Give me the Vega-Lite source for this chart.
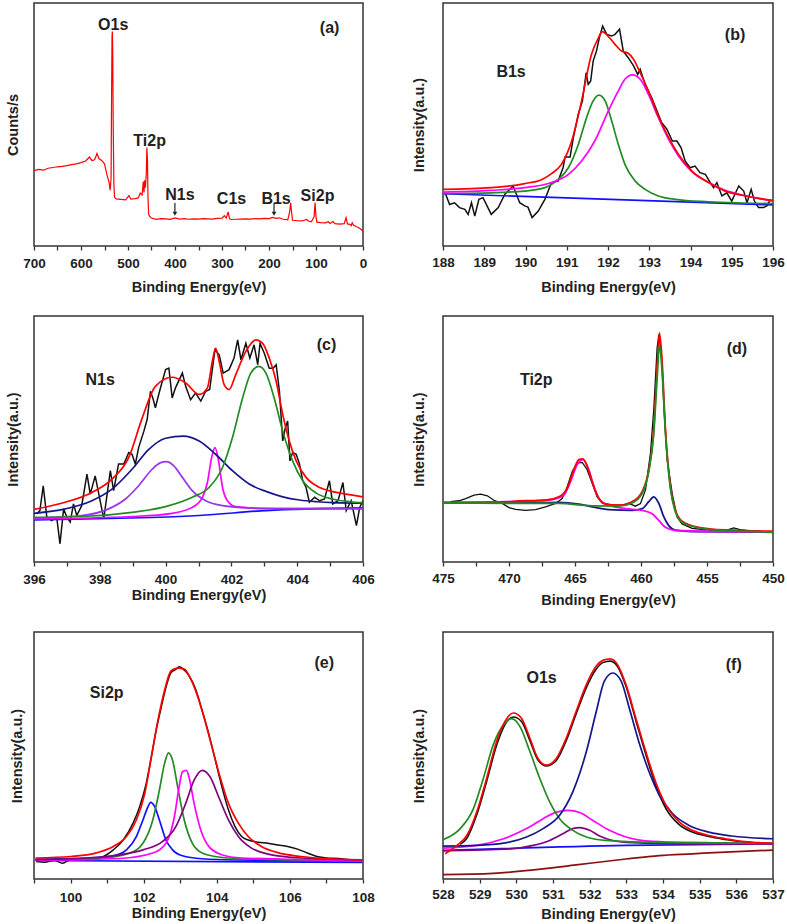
{
"$schema": "https://vega.github.io/schema/vega-lite/v6.json",
"padding": {"left": 4, "top": 2, "right": 0, "bottom": 2},
"config": {
  "font": "Liberation Sans",
  "view": {"stroke": "#333333", "strokeWidth": 1.5},
  "axis": {"grid": false, "domain": false, "labelFont": "Liberation Sans", "titleFont": "Liberation Sans", "labelFontWeight": "bold", "titleFontWeight": "bold", "labelFontSize": 13.5, "titleFontSize": 14.5, "labelColor": "#222222", "titleColor": "#222222", "tickColor": "#333333", "tickWidth": 1.3, "labelFlush": false, "labelOverlap": false},
  "text": {"font": "Liberation Sans", "fontWeight": "bold", "fontSize": 16, "color": "#222222"}
},
"datasets": {
  "a_line": [
    {"e":700,"i":31.0},{"e":690,"i":31.5},{"e":680,"i":31.2},{"e":670,"i":32.0},{"e":660,"i":32.3},{"e":650,"i":32.6},{"e":640,"i":32.8},{"e":630,"i":33.1},{"e":620,"i":33.5},{"e":610,"i":33.8},{"e":600,"i":34.3},{"e":590,"i":35.0},{"e":582,"i":36.6},{"e":577,"i":35.2},{"e":571,"i":35.5},{"e":566,"i":38.1},{"e":562,"i":36.0},{"e":556,"i":35.2},{"e":550,"i":33.8},{"e":545,"i":29.5},{"e":540,"i":26.0},{"e":538,"i":23.0},{"e":536,"i":28.0},{"e":535,"i":60.0},{"e":534,"i":86.0},{"e":533.3,"i":88.3},{"e":532.5,"i":80.0},{"e":531.5,"i":50.0},{"e":530,"i":25.0},{"e":528.5,"i":20.0},{"e":525,"i":19.4},{"e":515,"i":19.2},{"e":505,"i":19.0},{"e":498,"i":20.7},{"e":494,"i":19.3},{"e":485,"i":19.5},{"e":478,"i":19.8},{"e":474,"i":21.8},{"e":470,"i":21.0},{"e":467.5,"i":26.5},{"e":466,"i":22.0},{"e":464.5,"i":27.0},{"e":463,"i":24.0},{"e":461,"i":30.0},{"e":459.8,"i":40.5},{"e":458.5,"i":35.0},{"e":457.5,"i":20.0},{"e":456,"i":13.0},{"e":454,"i":12.2},{"e":450,"i":11.5},{"e":440,"i":11.0},{"e":430,"i":11.3},{"e":420,"i":11.2},{"e":410,"i":11.0},{"e":400,"i":11.6},{"e":390,"i":11.1},{"e":380,"i":11.3},{"e":370,"i":11.0},{"e":360,"i":11.2},{"e":350,"i":11.1},{"e":340,"i":11.3},{"e":330,"i":11.2},{"e":320,"i":11.1},{"e":310,"i":11.4},{"e":300,"i":11.5},{"e":295,"i":12.5},{"e":291,"i":11.5},{"e":287,"i":14.0},{"e":284,"i":11.2},{"e":280,"i":10.9},{"e":270,"i":11.0},{"e":260,"i":11.1},{"e":250,"i":11.2},{"e":240,"i":11.1},{"e":230,"i":11.3},{"e":220,"i":11.2},{"e":210,"i":11.4},{"e":200,"i":11.3},{"e":192,"i":11.8},{"e":185,"i":11.4},{"e":178,"i":11.6},{"e":170,"i":11.0},{"e":160,"i":10.8},{"e":156,"i":14.0},{"e":154,"i":17.8},{"e":152,"i":14.0},{"e":150,"i":10.6},{"e":140,"i":10.4},{"e":130,"i":10.3},{"e":120,"i":10.9},{"e":115,"i":10.2},{"e":110,"i":10.0},{"e":104,"i":12.0},{"e":102,"i":17.8},{"e":100,"i":12.0},{"e":98,"i":9.8},{"e":90,"i":9.6},{"e":80,"i":9.5},{"e":74,"i":10.0},{"e":70,"i":9.3},{"e":64,"i":10.1},{"e":60,"i":9.2},{"e":50,"i":9.0},{"e":40,"i":9.2},{"e":36,"i":11.7},{"e":33,"i":9.1},{"e":28,"i":8.9},{"e":25,"i":8.4},{"e":23,"i":9.6},{"e":20,"i":8.5},{"e":15,"i":8.0},{"e":10,"i":7.6},{"e":5,"i":7.0},{"e":0,"i":6.2}
  ],
  "a_text": [
    {"e":531.5,"i":90.9,"t":"O1s"},{"e":71,"i":89.7,"t":"(a)"},{"e":454,"i":43.2,"t":"Ti2p"},{"e":389.5,"i":21.0,"t":"N1s"},{"e":279.7,"i":19.3,"t":"C1s"},{"e":185,"i":19.3,"t":"B1s"},{"e":96.8,"i":20.6,"t":"Si2p"}
  ],
  "a_arrow": [
    {"e":400.2,"i":17.7,"i2":13.3},{"e":189.3,"i":17.7,"i2":13.3}
  ],
  "b_raw": [
    {"e":188.06,"i":21.5},{"e":188.16,"i":17.1},{"e":188.28,"i":17.8},{"e":188.4,"i":15.8},{"e":188.53,"i":15.1},{"e":188.61,"i":13.0},{"e":188.69,"i":17.8},{"e":188.77,"i":12.3},{"e":188.87,"i":19.2},{"e":188.97,"i":19.9},{"e":189.17,"i":13.0},{"e":189.34,"i":15.8},{"e":189.5,"i":21.3},{"e":189.7,"i":24.7},{"e":189.86,"i":17.8},{"e":189.98,"i":16.5},{"e":190.06,"i":16.0},{"e":190.16,"i":11.7},{"e":190.31,"i":14.4},{"e":190.47,"i":19.2},{"e":190.63,"i":26.1},{"e":190.79,"i":26.7},{"e":190.91,"i":32.2},{"e":190.96,"i":36.6},{"e":191.08,"i":36.6},{"e":191.16,"i":44.6},{"e":191.28,"i":54.2},{"e":191.38,"i":59.7},{"e":191.47,"i":71.3},{"e":191.52,"i":66.5},{"e":191.58,"i":67.9},{"e":191.64,"i":76.1},{"e":191.72,"i":80.2},{"e":191.79,"i":85.7},{"e":191.87,"i":90.5},{"e":191.97,"i":87.1},{"e":192.09,"i":86.4},{"e":192.17,"i":87.1},{"e":192.28,"i":89.2},{"e":192.37,"i":80.2},{"e":192.49,"i":77.5},{"e":192.62,"i":74.1},{"e":192.72,"i":70.6},{"e":192.78,"i":72.7},{"e":192.9,"i":66.5},{"e":193.06,"i":61.0},{"e":193.22,"i":54.2},{"e":193.3,"i":50.8},{"e":193.43,"i":48.0},{"e":193.56,"i":43.2},{"e":193.67,"i":43.2},{"e":193.77,"i":40.5},{"e":193.87,"i":35.0},{"e":193.99,"i":32.2},{"e":194.11,"i":32.9},{"e":194.23,"i":30.2},{"e":194.36,"i":29.5},{"e":194.48,"i":26.1},{"e":194.56,"i":24.0},{"e":194.64,"i":26.1},{"e":194.76,"i":20.6},{"e":194.88,"i":21.9},{"e":195.0,"i":18.5},{"e":195.17,"i":24.7},{"e":195.29,"i":22.6},{"e":195.37,"i":17.8},{"e":195.47,"i":23.3},{"e":195.55,"i":18.5},{"e":195.65,"i":15.8},{"e":195.77,"i":15.8},{"e":195.85,"i":16.5},{"e":195.94,"i":19.2}
  ],
  "b_fit": [
    {"e":188,"i":21.5,"s":"Background"},{"e":196,"i":16.9,"s":"Background"},
    {"e":188,"i":21.6,"s":"Peak 1"},{"e":189.17,"i":21.9,"s":"Peak 1"},{"e":189.98,"i":22.6,"s":"Peak 1"},{"e":190.47,"i":24.0,"s":"Peak 1"},{"e":190.79,"i":27.4,"s":"Peak 1"},{"e":191.04,"i":32.2,"s":"Peak 1"},{"e":191.28,"i":41.8,"s":"Peak 1"},{"e":191.48,"i":52.8,"s":"Peak 1"},{"e":191.64,"i":59.7,"s":"Peak 1"},{"e":191.78,"i":62.1,"s":"Peak 1"},{"e":191.93,"i":59.7,"s":"Peak 1"},{"e":192.09,"i":51.4,"s":"Peak 1"},{"e":192.25,"i":41.8,"s":"Peak 1"},{"e":192.41,"i":33.6,"s":"Peak 1"},{"e":192.66,"i":26.7,"s":"Peak 1"},{"e":192.9,"i":23.3,"s":"Peak 1"},{"e":193.22,"i":20.6,"s":"Peak 1"},{"e":193.63,"i":19.2,"s":"Peak 1"},{"e":194.44,"i":18.2,"s":"Peak 1"},{"e":195.25,"i":17.7,"s":"Peak 1"},{"e":196,"i":17.4,"s":"Peak 1"},
    {"e":188,"i":22.2,"s":"Peak 2"},{"e":189.17,"i":22.9,"s":"Peak 2"},{"e":189.98,"i":24.0,"s":"Peak 2"},{"e":190.63,"i":26.1,"s":"Peak 2"},{"e":191.04,"i":29.5,"s":"Peak 2"},{"e":191.36,"i":35.0,"s":"Peak 2"},{"e":191.68,"i":43.2,"s":"Peak 2"},{"e":192.01,"i":55.6,"s":"Peak 2"},{"e":192.25,"i":63.8,"s":"Peak 2"},{"e":192.41,"i":68.6,"s":"Peak 2"},{"e":192.59,"i":70.4,"s":"Peak 2"},{"e":192.78,"i":68.6,"s":"Peak 2"},{"e":192.98,"i":62.4,"s":"Peak 2"},{"e":193.22,"i":52.8,"s":"Peak 2"},{"e":193.47,"i":43.9,"s":"Peak 2"},{"e":193.71,"i":37.0,"s":"Peak 2"},{"e":194.03,"i":30.6,"s":"Peak 2"},{"e":194.44,"i":26.1,"s":"Peak 2"},{"e":194.84,"i":22.9,"s":"Peak 2"},{"e":195.25,"i":21.0,"s":"Peak 2"},{"e":195.65,"i":19.6,"s":"Peak 2"},{"e":196,"i":18.5,"s":"Peak 2"},
    {"e":188,"i":23.3,"s":"Envelope"},{"e":189.17,"i":24.0,"s":"Envelope"},{"e":189.98,"i":25.7,"s":"Envelope"},{"e":190.4,"i":27.4,"s":"Envelope"},{"e":190.63,"i":29.8,"s":"Envelope"},{"e":190.87,"i":33.6,"s":"Envelope"},{"e":191.12,"i":43.2,"s":"Envelope"},{"e":191.36,"i":59.7,"s":"Envelope"},{"e":191.6,"i":78.9,"s":"Envelope"},{"e":191.77,"i":85.7,"s":"Envelope"},{"e":191.86,"i":88.2,"s":"Envelope"},{"e":192.0,"i":86.4,"s":"Envelope"},{"e":192.17,"i":83.0,"s":"Envelope"},{"e":192.33,"i":80.2,"s":"Envelope"},{"e":192.49,"i":79.3,"s":"Envelope"},{"e":192.62,"i":76.8,"s":"Envelope"},{"e":192.78,"i":71.3,"s":"Envelope"},{"e":192.98,"i":63.8,"s":"Envelope"},{"e":193.22,"i":53.5,"s":"Envelope"},{"e":193.47,"i":44.6,"s":"Envelope"},{"e":193.71,"i":37.7,"s":"Envelope"},{"e":194.03,"i":30.9,"s":"Envelope"},{"e":194.44,"i":26.1,"s":"Envelope"},{"e":194.84,"i":22.6,"s":"Envelope"},{"e":195.25,"i":20.9,"s":"Envelope"},{"e":195.65,"i":19.6,"s":"Envelope"},{"e":196,"i":18.8,"s":"Envelope"}
  ],
  "b_text": [{"e":195.08,"i":86.8,"t":"(b)"},{"e":189.65,"i":71.6,"t":"B1s"}],
  "c_raw": [
    {"e":396.08,"i":19.5},{"e":396.18,"i":20.9},{"e":396.28,"i":31.0},{"e":396.39,"i":18.2},{"e":396.54,"i":16.8},{"e":396.69,"i":18.2},{"e":396.79,"i":7.4},{"e":396.9,"i":21.6},{"e":397.0,"i":18.2},{"e":397.1,"i":16.2},{"e":397.2,"i":23.6},{"e":397.3,"i":18.9},{"e":397.45,"i":22.9},{"e":397.61,"i":35.7},{"e":397.71,"i":27.6},{"e":397.86,"i":35.0},{"e":397.96,"i":28.3},{"e":398.12,"i":17.5},{"e":398.32,"i":37.1},{"e":398.42,"i":29.0},{"e":398.57,"i":39.8},{"e":398.73,"i":39.8},{"e":398.88,"i":44.5},{"e":398.98,"i":43.8},{"e":399.08,"i":39.8},{"e":399.18,"i":46.5},{"e":399.34,"i":53.2},{"e":399.44,"i":58.0},{"e":399.54,"i":69.4},{"e":399.61,"i":66.7},{"e":399.69,"i":62.7},{"e":399.79,"i":68.1},{"e":399.9,"i":73.5},{"e":400.0,"i":78.2},{"e":400.1,"i":78.8},{"e":400.2,"i":66.7},{"e":400.3,"i":70.8},{"e":400.51,"i":76.8},{"e":400.61,"i":71.4},{"e":400.76,"i":66.0},{"e":400.91,"i":68.7},{"e":401.07,"i":65.4},{"e":401.22,"i":69.4},{"e":401.34,"i":70.1},{"e":401.5,"i":86.3},{"e":401.63,"i":84.2},{"e":401.75,"i":76.8},{"e":401.93,"i":78.2},{"e":402.08,"i":82.9},{"e":402.19,"i":90.3},{"e":402.29,"i":82.2},{"e":402.44,"i":88.9},{"e":402.56,"i":82.9},{"e":402.69,"i":88.3},{"e":402.8,"i":80.2},{"e":402.87,"i":88.9},{"e":403.0,"i":84.9},{"e":403.15,"i":78.8},{"e":403.27,"i":78.8},{"e":403.36,"i":80.2},{"e":403.46,"i":69.4},{"e":403.56,"i":49.2},{"e":403.64,"i":54.6},{"e":403.71,"i":57.3},{"e":403.78,"i":41.1},{"e":403.86,"i":44.5},{"e":403.97,"i":43.8},{"e":404.07,"i":39.8},{"e":404.17,"i":33.0},{"e":404.27,"i":30.3},{"e":404.37,"i":24.3},{"e":404.53,"i":26.3},{"e":404.68,"i":24.9},{"e":404.83,"i":25.6},{"e":404.98,"i":33.0},{"e":405.08,"i":23.6},{"e":405.24,"i":24.9},{"e":405.39,"i":32.3},{"e":405.49,"i":20.9},{"e":405.64,"i":24.9},{"e":405.8,"i":14.8},{"e":405.9,"i":22.2},{"e":406,"i":24.9}
  ],
  "c_fit": [
    {"e":396,"i":17.1,"s":"Background"},{"e":401.02,"i":18.9,"s":"Background"},{"e":403.05,"i":20.9,"s":"Background"},{"e":406,"i":22.0,"s":"Background"},
    {"e":396,"i":17.5,"s":"Peak 3"},{"e":398.98,"i":18.5,"s":"Peak 3"},{"e":400.2,"i":19.8,"s":"Peak 3"},{"e":400.81,"i":22.2,"s":"Peak 3"},{"e":401.12,"i":26.3,"s":"Peak 3"},{"e":401.27,"i":32.3,"s":"Peak 3"},{"e":401.4,"i":42.5,"s":"Peak 3"},{"e":401.5,"i":46.5,"s":"Peak 3"},{"e":401.61,"i":41.1,"s":"Peak 3"},{"e":401.73,"i":30.3,"s":"Peak 3"},{"e":401.88,"i":24.9,"s":"Peak 3"},{"e":402.13,"i":22.5,"s":"Peak 3"},{"e":403.05,"i":21.7,"s":"Peak 3"},{"e":406,"i":21.7,"s":"Peak 3"},
    {"e":396,"i":17.9,"s":"Peak 1"},{"e":397.45,"i":18.9,"s":"Peak 1"},{"e":398.27,"i":21.6,"s":"Peak 1"},{"e":398.78,"i":25.6,"s":"Peak 1"},{"e":399.18,"i":31.0,"s":"Peak 1"},{"e":399.59,"i":37.7,"s":"Peak 1"},{"e":399.85,"i":40.4,"s":"Peak 1"},{"e":400.03,"i":40.8,"s":"Peak 1"},{"e":400.25,"i":39.1,"s":"Peak 1"},{"e":400.51,"i":34.4,"s":"Peak 1"},{"e":400.81,"i":29.0,"s":"Peak 1"},{"e":401.22,"i":24.9,"s":"Peak 1"},{"e":401.73,"i":22.9,"s":"Peak 1"},{"e":402.54,"i":22.0,"s":"Peak 1"},{"e":404.07,"i":21.7,"s":"Peak 1"},{"e":406,"i":21.7,"s":"Peak 1"},
    {"e":396,"i":19.8,"s":"Peak 2"},{"e":396.95,"i":21.6,"s":"Peak 2"},{"e":397.76,"i":24.9,"s":"Peak 2"},{"e":398.37,"i":29.6,"s":"Peak 2"},{"e":398.98,"i":37.7,"s":"Peak 2"},{"e":399.49,"i":45.8,"s":"Peak 2"},{"e":400.0,"i":50.3,"s":"Peak 2"},{"e":400.54,"i":51.2,"s":"Peak 2"},{"e":401.02,"i":49.2,"s":"Peak 2"},{"e":401.52,"i":43.8,"s":"Peak 2"},{"e":402.03,"i":37.1,"s":"Peak 2"},{"e":402.54,"i":31.7,"s":"Peak 2"},{"e":403.05,"i":28.7,"s":"Peak 2"},{"e":403.56,"i":26.5,"s":"Peak 2"},{"e":404.07,"i":25.2,"s":"Peak 2"},{"e":404.58,"i":24.5,"s":"Peak 2"},{"e":405.08,"i":24.1,"s":"Peak 2"},{"e":406,"i":23.9,"s":"Peak 2"},
    {"e":396,"i":18.2,"s":"Peak 4"},{"e":397.45,"i":18.5,"s":"Peak 4"},{"e":398.98,"i":20.2,"s":"Peak 4"},{"e":400.0,"i":22.5,"s":"Peak 4"},{"e":400.81,"i":26.3,"s":"Peak 4"},{"e":401.32,"i":30.3,"s":"Peak 4"},{"e":401.73,"i":38.4,"s":"Peak 4"},{"e":402.03,"i":50.5,"s":"Peak 4"},{"e":402.34,"i":66.7,"s":"Peak 4"},{"e":402.59,"i":76.8,"s":"Peak 4"},{"e":402.83,"i":79.5,"s":"Peak 4"},{"e":403.05,"i":76.8,"s":"Peak 4"},{"e":403.3,"i":66.7,"s":"Peak 4"},{"e":403.56,"i":53.2,"s":"Peak 4"},{"e":403.86,"i":41.1,"s":"Peak 4"},{"e":404.17,"i":33.0,"s":"Peak 4"},{"e":404.58,"i":28.0,"s":"Peak 4"},{"e":405.08,"i":25.6,"s":"Peak 4"},{"e":405.59,"i":24.5,"s":"Peak 4"},{"e":406,"i":24.1,"s":"Peak 4"},
    {"e":396,"i":21.4,"s":"Envelope"},{"e":396.95,"i":24.3,"s":"Envelope"},{"e":397.76,"i":28.3,"s":"Envelope"},{"e":398.37,"i":33.7,"s":"Envelope"},{"e":398.88,"i":42.5,"s":"Envelope"},{"e":399.29,"i":58.6,"s":"Envelope"},{"e":399.69,"i":71.4,"s":"Envelope"},{"e":400.2,"i":75.1,"s":"Envelope"},{"e":400.61,"i":72.8,"s":"Envelope"},{"e":401.02,"i":68.1,"s":"Envelope"},{"e":401.27,"i":70.8,"s":"Envelope"},{"e":401.42,"i":81.5,"s":"Envelope"},{"e":401.52,"i":86.9,"s":"Envelope"},{"e":401.63,"i":81.5,"s":"Envelope"},{"e":401.78,"i":72.1,"s":"Envelope"},{"e":401.93,"i":70.1,"s":"Envelope"},{"e":402.13,"i":76.1,"s":"Envelope"},{"e":402.44,"i":85.6,"s":"Envelope"},{"e":402.74,"i":90.3,"s":"Envelope"},{"e":402.95,"i":88.9,"s":"Envelope"},{"e":403.15,"i":82.9,"s":"Envelope"},{"e":403.36,"i":73.5,"s":"Envelope"},{"e":403.56,"i":60.0,"s":"Envelope"},{"e":403.76,"i":49.2,"s":"Envelope"},{"e":403.97,"i":41.1,"s":"Envelope"},{"e":404.27,"i":34.4,"s":"Envelope"},{"e":404.68,"i":30.3,"s":"Envelope"},{"e":405.08,"i":28.6,"s":"Envelope"},{"e":405.59,"i":27.4,"s":"Envelope"},{"e":406,"i":26.5,"s":"Envelope"}
  ],
  "c_text": [{"e":404.89,"i":88.2,"t":"(c)"},{"e":398.01,"i":73.8,"t":"N1s"}],
  "d_raw": [
    {"e":474.42,"i":24.5},{"e":473.79,"i":24.9},{"e":473.28,"i":25.8},{"e":472.65,"i":27.2},{"e":472.15,"i":27.6},{"e":471.64,"i":26.9},{"e":471.14,"i":25.1},{"e":470.51,"i":23.8},{"e":470.0,"i":22.1},{"e":469.5,"i":21.4},{"e":468.74,"i":21.0},{"e":467.99,"i":21.3},{"e":467.23,"i":22.4},{"e":466.47,"i":23.8},{"e":465.97,"i":25.8},{"e":465.59,"i":30.6},{"e":465.21,"i":36.8},{"e":464.83,"i":40.2},{"e":464.45,"i":40.5},{"e":464.08,"i":37.5},{"e":463.7,"i":32.0},{"e":463.32,"i":26.5},{"e":462.94,"i":24.0},{"e":462.18,"i":23.1},{"e":461.43,"i":23.1},{"e":460.92,"i":23.8},{"e":460.42,"i":22.7},{"e":460.04,"i":23.8},{"e":459.66,"i":29.3},{"e":459.28,"i":44.4},{"e":459.03,"i":62.2},{"e":458.78,"i":87.0},{"e":458.65,"i":92.4},{"e":458.45,"i":84.2},{"e":458.27,"i":63.6},{"e":458.02,"i":41.6},{"e":457.64,"i":27.9},{"e":457.27,"i":18.3},{"e":456.89,"i":15.5},{"e":456.13,"i":13.7},{"e":454.87,"i":13.0},{"e":453.61,"i":12.8},{"e":452.98,"i":13.9},{"e":452.35,"i":13.0},{"e":451.59,"i":12.5},{"e":450.08,"i":12.2}
  ],
  "d_fit": [
    {"e":474.92,"i":24.0,"s":"Background"},{"e":468.74,"i":24.0,"s":"Background"},{"e":466.22,"i":24.2,"s":"Background"},{"e":464.71,"i":23.5,"s":"Background"},{"e":463.7,"i":22.4,"s":"Background"},{"e":462.44,"i":21.3,"s":"Background"},{"e":460.67,"i":21.0,"s":"Background"},{"e":459.91,"i":21.7,"s":"Background"},{"e":459.41,"i":24.5,"s":"Background"},{"e":459.03,"i":26.5,"s":"Background"},{"e":458.65,"i":23.8,"s":"Background"},{"e":458.27,"i":18.3,"s":"Background"},{"e":457.9,"i":14.8,"s":"Background"},{"e":457.39,"i":13.0,"s":"Background"},{"e":456.13,"i":12.4,"s":"Background"},{"e":450,"i":12.1,"s":"Background"},
    {"e":474.92,"i":24.2,"s":"Ti 2p1/2"},{"e":468.74,"i":24.7,"s":"Ti 2p1/2"},{"e":466.73,"i":25.4,"s":"Ti 2p1/2"},{"e":465.84,"i":27.2,"s":"Ti 2p1/2"},{"e":465.34,"i":32.7,"s":"Ti 2p1/2"},{"e":464.83,"i":39.6,"s":"Ti 2p1/2"},{"e":464.4,"i":41.6,"s":"Ti 2p1/2"},{"e":463.95,"i":37.5,"s":"Ti 2p1/2"},{"e":463.57,"i":30.6,"s":"Ti 2p1/2"},{"e":463.07,"i":25.1,"s":"Ti 2p1/2"},{"e":462.44,"i":23.1,"s":"Ti 2p1/2"},{"e":461.18,"i":21.7,"s":"Ti 2p1/2"},{"e":459.91,"i":21.0,"s":"Ti 2p1/2"},{"e":459.16,"i":19.6,"s":"Ti 2p1/2"},{"e":458.65,"i":16.9,"s":"Ti 2p1/2"},{"e":458.15,"i":14.1,"s":"Ti 2p1/2"},{"e":457.39,"i":12.8,"s":"Ti 2p1/2"},{"e":450,"i":12.2,"s":"Ti 2p1/2"},
    {"e":474.92,"i":24.2,"s":"Envelope"},{"e":471.27,"i":24.2,"s":"Envelope"},{"e":468.74,"i":24.9,"s":"Envelope"},{"e":467.23,"i":25.1,"s":"Envelope"},{"e":466.22,"i":26.5,"s":"Envelope"},{"e":465.59,"i":29.9,"s":"Envelope"},{"e":465.09,"i":37.5,"s":"Envelope"},{"e":464.71,"i":41.6,"s":"Envelope"},{"e":464.4,"i":41.9,"s":"Envelope"},{"e":464.08,"i":38.9,"s":"Envelope"},{"e":463.7,"i":32.7,"s":"Envelope"},{"e":463.19,"i":25.8,"s":"Envelope"},{"e":462.69,"i":23.5,"s":"Envelope"},{"e":461.68,"i":23.1,"s":"Envelope"},{"e":460.67,"i":24.5,"s":"Envelope"},{"e":459.91,"i":28.6,"s":"Envelope"},{"e":459.41,"i":37.5,"s":"Envelope"},{"e":459.03,"i":54.0,"s":"Envelope"},{"e":458.78,"i":78.7,"s":"Envelope"},{"e":458.6,"i":93.1,"s":"Envelope"},{"e":458.4,"i":81.5,"s":"Envelope"},{"e":458.15,"i":54.0,"s":"Envelope"},{"e":457.77,"i":30.6,"s":"Envelope"},{"e":457.39,"i":21.0,"s":"Envelope"},{"e":456.89,"i":16.6,"s":"Envelope"},{"e":455.63,"i":14.1,"s":"Envelope"},{"e":453.61,"i":13.0,"s":"Envelope"},{"e":450,"i":12.5,"s":"Envelope"},
    {"e":474.92,"i":24.0,"s":"Ti 2p3/2"},{"e":466.22,"i":23.8,"s":"Ti 2p3/2"},{"e":463.7,"i":22.8,"s":"Ti 2p3/2"},{"e":461.68,"i":22.7,"s":"Ti 2p3/2"},{"e":460.67,"i":24.0,"s":"Ti 2p3/2"},{"e":459.91,"i":27.9,"s":"Ti 2p3/2"},{"e":459.41,"i":36.8,"s":"Ti 2p3/2"},{"e":459.03,"i":52.6,"s":"Ti 2p3/2"},{"e":458.78,"i":74.6,"s":"Ti 2p3/2"},{"e":458.6,"i":88.3,"s":"Ti 2p3/2"},{"e":458.4,"i":77.3,"s":"Ti 2p3/2"},{"e":458.15,"i":52.6,"s":"Ti 2p3/2"},{"e":457.77,"i":29.9,"s":"Ti 2p3/2"},{"e":457.39,"i":20.3,"s":"Ti 2p3/2"},{"e":456.89,"i":16.2,"s":"Ti 2p3/2"},{"e":455.63,"i":13.9,"s":"Ti 2p3/2"},{"e":453.61,"i":12.8,"s":"Ti 2p3/2"},{"e":450,"i":12.2,"s":"Ti 2p3/2"}
  ],
  "d_text": [{"e":452.73,"i":86.7,"t":"(d)"},{"e":467.94,"i":73.9,"t":"Ti2p"}],
  "e_raw": [
    {"e":99.06,"i":7.1},{"e":99.29,"i":6.8},{"e":99.56,"i":7.5},{"e":99.78,"i":6.4},{"e":100.01,"i":7.8},{"e":100.37,"i":7.8},{"e":100.64,"i":8.1},{"e":100.9,"i":9.1},{"e":101.17,"i":11.8},{"e":101.44,"i":15.8},{"e":101.71,"i":22.6},{"e":101.89,"i":29.3},{"e":102.07,"i":38.7},{"e":102.21,"i":49.4},{"e":102.34,"i":60.1},{"e":102.48,"i":69.5},{"e":102.61,"i":77.6},{"e":102.75,"i":83.6},{"e":102.88,"i":84.9},{"e":102.97,"i":85.9},{"e":103.11,"i":84.6},{"e":103.24,"i":82.3},{"e":103.42,"i":76.9},{"e":103.6,"i":68.2},{"e":103.78,"i":58.8},{"e":103.96,"i":48.1},{"e":104.14,"i":37.3},{"e":104.32,"i":27.9},{"e":104.5,"i":21.2},{"e":104.68,"i":17.2},{"e":104.86,"i":15.8},{"e":105.13,"i":14.9},{"e":105.4,"i":14.5},{"e":105.67,"i":13.8},{"e":105.94,"i":13.2},{"e":106.21,"i":12.1},{"e":106.48,"i":10.5},{"e":106.74,"i":9.1},{"e":107.01,"i":8.5},{"e":107.33,"i":8.3},{"e":107.64,"i":7.8},{"e":107.98,"i":7.5}
  ],
  "e_fit": [
    {"e":99.04,"i":7.5,"s":"Background"},{"e":107.98,"i":6.7,"s":"Background"},
    {"e":99.04,"i":8.1,"s":"Peak 1"},{"e":100.46,"i":8.5,"s":"Peak 1"},{"e":101.17,"i":9.4,"s":"Peak 1"},{"e":101.53,"i":11.8,"s":"Peak 1"},{"e":101.8,"i":17.2,"s":"Peak 1"},{"e":101.98,"i":23.9,"s":"Peak 1"},{"e":102.12,"i":29.3,"s":"Peak 1"},{"e":102.19,"i":31.0,"s":"Peak 1"},{"e":102.3,"i":29.3,"s":"Peak 1"},{"e":102.43,"i":23.9,"s":"Peak 1"},{"e":102.61,"i":15.8,"s":"Peak 1"},{"e":102.79,"i":11.8,"s":"Peak 1"},{"e":103.06,"i":9.4,"s":"Peak 1"},{"e":103.6,"i":8.2,"s":"Peak 1"},{"e":104.5,"i":7.7,"s":"Peak 1"},{"e":107.98,"i":7.4,"s":"Peak 1"},
    {"e":99.04,"i":7.8,"s":"Peak 2"},{"e":100.9,"i":8.5,"s":"Peak 2"},{"e":101.62,"i":10.5,"s":"Peak 2"},{"e":101.98,"i":14.5,"s":"Peak 2"},{"e":102.25,"i":23.9,"s":"Peak 2"},{"e":102.43,"i":36.0,"s":"Peak 2"},{"e":102.57,"i":46.7,"s":"Peak 2"},{"e":102.68,"i":51.1,"s":"Peak 2"},{"e":102.79,"i":48.1,"s":"Peak 2"},{"e":102.93,"i":37.3,"s":"Peak 2"},{"e":103.11,"i":23.9,"s":"Peak 2"},{"e":103.33,"i":14.5,"s":"Peak 2"},{"e":103.6,"i":10.5,"s":"Peak 2"},{"e":104.05,"i":8.9,"s":"Peak 2"},{"e":104.95,"i":8.1,"s":"Peak 2"},{"e":107.98,"i":7.5,"s":"Peak 2"},
    {"e":99.04,"i":7.5,"s":"Peak 3"},{"e":101.35,"i":8.3,"s":"Peak 3"},{"e":102.25,"i":10.5,"s":"Peak 3"},{"e":102.61,"i":14.5,"s":"Peak 3"},{"e":102.84,"i":25.2,"s":"Peak 3"},{"e":102.97,"i":37.3,"s":"Peak 3"},{"e":103.06,"i":43.4,"s":"Peak 3"},{"e":103.17,"i":44.0,"s":"Peak 3"},{"e":103.24,"i":41.3,"s":"Peak 3"},{"e":103.38,"i":30.6,"s":"Peak 3"},{"e":103.56,"i":19.9,"s":"Peak 3"},{"e":103.78,"i":13.2,"s":"Peak 3"},{"e":104.14,"i":9.8,"s":"Peak 3"},{"e":104.68,"i":8.5,"s":"Peak 3"},{"e":107.98,"i":7.5,"s":"Peak 3"},
    {"e":99.04,"i":7.8,"s":"Peak 4"},{"e":100.46,"i":8.5,"s":"Peak 4"},{"e":101.35,"i":9.8,"s":"Peak 4"},{"e":101.98,"i":11.8,"s":"Peak 4"},{"e":102.52,"i":15.2,"s":"Peak 4"},{"e":102.88,"i":21.2,"s":"Peak 4"},{"e":103.15,"i":30.6,"s":"Peak 4"},{"e":103.38,"i":40.0,"s":"Peak 4"},{"e":103.6,"i":44.0,"s":"Peak 4"},{"e":103.82,"i":41.3,"s":"Peak 4"},{"e":104.05,"i":33.3,"s":"Peak 4"},{"e":104.32,"i":23.9,"s":"Peak 4"},{"e":104.59,"i":17.2,"s":"Peak 4"},{"e":104.95,"i":12.5,"s":"Peak 4"},{"e":105.4,"i":10.1,"s":"Peak 4"},{"e":106.3,"i":8.5,"s":"Peak 4"},{"e":107.98,"i":7.8,"s":"Peak 4"},
    {"e":99.04,"i":8.5,"s":"Envelope"},{"e":100.01,"i":9.1,"s":"Envelope"},{"e":100.73,"i":10.7,"s":"Envelope"},{"e":101.17,"i":13.2,"s":"Envelope"},{"e":101.53,"i":17.2,"s":"Envelope"},{"e":101.8,"i":23.9,"s":"Envelope"},{"e":102.03,"i":34.6,"s":"Envelope"},{"e":102.21,"i":49.4,"s":"Envelope"},{"e":102.39,"i":64.2,"s":"Envelope"},{"e":102.57,"i":76.2,"s":"Envelope"},{"e":102.75,"i":84.3,"s":"Envelope"},{"e":102.93,"i":85.4,"s":"Envelope"},{"e":103.11,"i":85.0,"s":"Envelope"},{"e":103.29,"i":80.9,"s":"Envelope"},{"e":103.47,"i":74.2,"s":"Envelope"},{"e":103.65,"i":65.5,"s":"Envelope"},{"e":103.87,"i":53.4,"s":"Envelope"},{"e":104.09,"i":41.3,"s":"Envelope"},{"e":104.32,"i":30.6,"s":"Envelope"},{"e":104.59,"i":22.6,"s":"Envelope"},{"e":104.86,"i":17.2,"s":"Envelope"},{"e":105.22,"i":13.2,"s":"Envelope"},{"e":105.67,"i":10.7,"s":"Envelope"},{"e":106.3,"i":9.1,"s":"Envelope"},{"e":107.19,"i":8.1,"s":"Envelope"},{"e":107.98,"i":7.7,"s":"Envelope"}
  ],
  "e_text": [{"e":106.94,"i":87.4,"t":"(e)"},{"e":100.99,"i":75.3,"t":"Si2p"}],
  "f_raw": [
    {"e":528.47,"i":14.0},{"e":528.65,"i":16.5},{"e":528.92,"i":26.0},{"e":529.19,"i":39.5},{"e":529.46,"i":54.0},{"e":529.69,"i":62.5},{"e":529.92,"i":65.6},{"e":530.14,"i":63.8},{"e":530.37,"i":56.0},{"e":530.59,"i":48.2},{"e":530.82,"i":45.8},{"e":531.09,"i":48.0},{"e":531.36,"i":56.0},{"e":531.63,"i":66.8},{"e":531.91,"i":77.5},{"e":532.18,"i":85.0},{"e":532.36,"i":87.6},{"e":532.56,"i":88.2},{"e":532.76,"i":86.0},{"e":532.99,"i":78.0},{"e":533.26,"i":64.2},{"e":533.53,"i":50.5},{"e":533.8,"i":38.0},{"e":534.08,"i":28.5},{"e":534.44,"i":22.0},{"e":534.8,"i":19.0},{"e":535.25,"i":17.2},{"e":535.7,"i":16.0},{"e":536.16,"i":15.0},{"e":536.61,"i":14.6},{"e":537,"i":14.3}
  ],
  "f_fit": [
    {"e":528,"i":1.8,"s":"Shirley"},{"e":529.37,"i":2.3,"s":"Shirley"},{"e":530.73,"i":4.1,"s":"Shirley"},{"e":531.63,"i":5.7,"s":"Shirley"},{"e":532.99,"i":8.1,"s":"Shirley"},{"e":533.9,"i":9.5,"s":"Shirley"},{"e":534.8,"i":10.2,"s":"Shirley"},{"e":535.7,"i":10.9,"s":"Shirley"},{"e":537,"i":11.7,"s":"Shirley"},
    {"e":528,"i":11.5,"s":"Background"},{"e":532.99,"i":13.6,"s":"Background"},{"e":537,"i":14.2,"s":"Background"},
    {"e":528,"i":11.5,"s":"Peak 4"},{"e":529.83,"i":12.2,"s":"Peak 4"},{"e":530.46,"i":13.6,"s":"Peak 4"},{"e":530.91,"i":15.6,"s":"Peak 4"},{"e":531.27,"i":18.3,"s":"Peak 4"},{"e":531.54,"i":20.4,"s":"Peak 4"},{"e":531.73,"i":20.8,"s":"Peak 4"},{"e":532.0,"i":19.7,"s":"Peak 4"},{"e":532.27,"i":17.4,"s":"Peak 4"},{"e":532.63,"i":15.6,"s":"Peak 4"},{"e":533.16,"i":14.7,"s":"Peak 4"},{"e":534.8,"i":14.2,"s":"Peak 4"},{"e":537,"i":14.1,"s":"Peak 4"},
    {"e":528,"i":12.5,"s":"Peak 3"},{"e":528.92,"i":13.6,"s":"Peak 3"},{"e":529.65,"i":16.3,"s":"Peak 3"},{"e":530.28,"i":20.4,"s":"Peak 3"},{"e":530.73,"i":24.4,"s":"Peak 3"},{"e":531.09,"i":27.1,"s":"Peak 3"},{"e":531.41,"i":27.8,"s":"Peak 3"},{"e":531.73,"i":26.9,"s":"Peak 3"},{"e":532.09,"i":23.7,"s":"Peak 3"},{"e":532.54,"i":19.7,"s":"Peak 3"},{"e":532.99,"i":17.0,"s":"Peak 3"},{"e":533.71,"i":15.2,"s":"Peak 3"},{"e":534.8,"i":14.7,"s":"Peak 3"},{"e":537,"i":14.4,"s":"Peak 3"},
    {"e":528,"i":15.9,"s":"Peak 1"},{"e":528.47,"i":20.4,"s":"Peak 1"},{"e":528.83,"i":28.5,"s":"Peak 1"},{"e":529.1,"i":40.7,"s":"Peak 1"},{"e":529.37,"i":54.3,"s":"Peak 1"},{"e":529.65,"i":62.4,"s":"Peak 1"},{"e":529.87,"i":64.9,"s":"Peak 1"},{"e":530.1,"i":61.7,"s":"Peak 1"},{"e":530.37,"i":51.6,"s":"Peak 1"},{"e":530.64,"i":40.7,"s":"Peak 1"},{"e":530.91,"i":31.2,"s":"Peak 1"},{"e":531.18,"i":24.4,"s":"Peak 1"},{"e":531.54,"i":19.7,"s":"Peak 1"},{"e":531.91,"i":17.0,"s":"Peak 1"},{"e":532.45,"i":15.6,"s":"Peak 1"},{"e":533.43,"i":14.9,"s":"Peak 1"},{"e":534.8,"i":14.7,"s":"Peak 1"},{"e":537,"i":14.4,"s":"Peak 1"},
    {"e":528,"i":13.3,"s":"Peak 2"},{"e":528.92,"i":13.6,"s":"Peak 2"},{"e":529.65,"i":14.5,"s":"Peak 2"},{"e":530.28,"i":17.0,"s":"Peak 2"},{"e":530.73,"i":20.4,"s":"Peak 2"},{"e":531.18,"i":25.8,"s":"Peak 2"},{"e":531.54,"i":35.3,"s":"Peak 2"},{"e":531.91,"i":51.6,"s":"Peak 2"},{"e":532.18,"i":67.8,"s":"Peak 2"},{"e":532.4,"i":80.1,"s":"Peak 2"},{"e":532.63,"i":83.4,"s":"Peak 2"},{"e":532.86,"i":80.1,"s":"Peak 2"},{"e":533.08,"i":69.2,"s":"Peak 2"},{"e":533.34,"i":55.6,"s":"Peak 2"},{"e":533.62,"i":43.4,"s":"Peak 2"},{"e":533.9,"i":33.9,"s":"Peak 2"},{"e":534.26,"i":26.5,"s":"Peak 2"},{"e":534.71,"i":21.7,"s":"Peak 2"},{"e":535.25,"i":19.0,"s":"Peak 2"},{"e":535.88,"i":17.4,"s":"Peak 2"},{"e":537,"i":16.3,"s":"Peak 2"},
    {"e":528.06,"i":10.2,"s":"Envelope"},{"e":528.38,"i":13.6,"s":"Envelope"},{"e":528.65,"i":17.6,"s":"Envelope"},{"e":528.92,"i":27.1,"s":"Envelope"},{"e":529.19,"i":40.7,"s":"Envelope"},{"e":529.46,"i":55.6,"s":"Envelope"},{"e":529.69,"i":63.8,"s":"Envelope"},{"e":529.92,"i":67.2,"s":"Envelope"},{"e":530.14,"i":65.1,"s":"Envelope"},{"e":530.37,"i":57.0,"s":"Envelope"},{"e":530.59,"i":48.8,"s":"Envelope"},{"e":530.82,"i":46.1,"s":"Envelope"},{"e":531.09,"i":48.8,"s":"Envelope"},{"e":531.36,"i":57.0,"s":"Envelope"},{"e":531.63,"i":67.8,"s":"Envelope"},{"e":531.91,"i":78.7,"s":"Envelope"},{"e":532.18,"i":86.2,"s":"Envelope"},{"e":532.36,"i":88.5,"s":"Envelope"},{"e":532.56,"i":89.1,"s":"Envelope"},{"e":532.76,"i":86.8,"s":"Envelope"},{"e":532.99,"i":78.7,"s":"Envelope"},{"e":533.26,"i":65.1,"s":"Envelope"},{"e":533.53,"i":51.6,"s":"Envelope"},{"e":533.8,"i":39.3,"s":"Envelope"},{"e":534.08,"i":29.9,"s":"Envelope"},{"e":534.44,"i":23.1,"s":"Envelope"},{"e":534.8,"i":19.7,"s":"Envelope"},{"e":535.25,"i":17.6,"s":"Envelope"},{"e":535.7,"i":16.3,"s":"Envelope"},{"e":536.16,"i":15.2,"s":"Envelope"},{"e":536.61,"i":14.7,"s":"Envelope"},{"e":537,"i":14.4,"s":"Envelope"}
  ],
  "f_text": [{"e":535.93,"i":86.8,"t":"(f)"},{"e":530.69,"i":81.4,"t":"O1s"}]
},
"resolve": {"scale": {"x": "independent", "y": "independent", "color": "independent"}},
"bounds": "flush",
"align": "each",
"columns": 2,
"spacing": {"row": 70, "column": 80},
"concat": [
  {
    "width": 329, "height": 243,
    "layer": [
      {"data": {"name": "a_line"}, "mark": {"type": "line", "color": "#FF0000", "strokeWidth": 1.2, "clip": true},
       "encoding": {
         "x": {"field": "e", "type": "quantitative", "scale": {"domain": [0, 700], "reverse": true, "nice": false, "zero": false},
               "axis": {"title": "Binding Energy(eV)", "values": [0,50,100,150,200,250,300,350,400,450,500,550,600,650,700], "tickCount": 100, "format": "d", "labelExpr": "datum.value % 100 === 0 ? datum.label : ''", "labelOverlap": false, "tickSize": 4, "labelPadding": 6, "titlePadding": 10.5}},
         "y": {"field": "i", "type": "quantitative", "scale": {"domain": [0, 100], "nice": false, "zero": false},
               "axis": {"title": "Counts/s", "labels": false, "ticks": false, "titlePadding": 14}}
       }},
      {"data": {"name": "a_text"}, "mark": {"type": "text", "align": "center", "baseline": "middle"},
       "encoding": {"x": {"field": "e", "type": "quantitative"}, "y": {"field": "i", "type": "quantitative"}, "text": {"field": "t"}}},
      {"data": {"name": "a_arrow"}, "mark": {"type": "rule", "color": "#222222", "strokeWidth": 1.2},
       "encoding": {"x": {"field": "e", "type": "quantitative"}, "y": {"field": "i", "type": "quantitative"}, "y2": {"field": "i2"}}},
      {"data": {"name": "a_arrow"}, "mark": {"type": "point", "shape": "triangle-down", "filled": true, "color": "#222222", "size": 22, "opacity": 1},
       "encoding": {"x": {"field": "e", "type": "quantitative"}, "y": {"field": "i2", "type": "quantitative"}}}
    ]
  },
  {
    "width": 330, "height": 243,
    "layer": [
      {"data": {"name": "b_raw"}, "mark": {"type": "line", "color": "#111111", "strokeWidth": 1.5, "clip": true},
       "encoding": {
         "x": {"field": "e", "type": "quantitative", "scale": {"domain": [188, 196], "nice": false, "zero": false},
               "axis": {"title": "Binding Energy(eV)", "values": [188,188.5,189,189.5,190,190.5,191,191.5,192,192.5,193,193.5,194,194.5,195,195.5,196], "tickCount": 100, "format": "d", "labelExpr": "datum.value % 1 === 0 ? datum.label : ''", "labelOverlap": false, "tickSize": 4, "labelPadding": 5, "titlePadding": 12}},
         "y": {"field": "i", "type": "quantitative", "scale": {"domain": [0, 100], "nice": false, "zero": false},
               "axis": {"title": "Intensity(a.u.)", "labels": false, "ticks": false, "titlePadding": 17}}
       }},
      {"data": {"name": "b_fit"}, "mark": {"type": "line", "strokeWidth": 1.7, "interpolate": "monotone", "clip": true},
       "encoding": {
         "x": {"field": "e", "type": "quantitative"}, "y": {"field": "i", "type": "quantitative"},
         "color": {"field": "s", "type": "nominal", "scale": {"domain": ["Background", "Peak 1", "Peak 2", "Envelope"], "range": ["#1010FF", "#228B22", "#FF00FF", "#FF0000"]}, "legend": null}
       }},
      {"data": {"name": "b_text"}, "mark": {"type": "text", "align": "center", "baseline": "middle"},
       "encoding": {"x": {"field": "e", "type": "quantitative"}, "y": {"field": "i", "type": "quantitative"}, "text": {"field": "t"}}}
    ]
  },
  {
    "width": 329, "height": 246,
    "layer": [
      {"data": {"name": "c_raw"}, "mark": {"type": "line", "color": "#111111", "strokeWidth": 1.5, "clip": true},
       "encoding": {
         "x": {"field": "e", "type": "quantitative", "scale": {"domain": [396, 406], "nice": false, "zero": false},
               "axis": {"title": "Binding Energy(eV)", "values": [396,397,398,399,400,401,402,403,404,405,406], "tickCount": 100, "format": "d", "labelExpr": "datum.value % 2 === 0 ? datum.label : ''", "labelOverlap": false, "tickSize": 4, "labelPadding": 6, "titlePadding": 3}},
         "y": {"field": "i", "type": "quantitative", "scale": {"domain": [0, 100], "nice": false, "zero": false},
               "axis": {"title": "Intensity(a.u.)", "labels": false, "ticks": false, "titlePadding": 14}}
       }},
      {"data": {"name": "c_fit"}, "mark": {"type": "line", "strokeWidth": 1.7, "interpolate": "monotone", "clip": true},
       "encoding": {
         "x": {"field": "e", "type": "quantitative"}, "y": {"field": "i", "type": "quantitative"},
         "color": {"field": "s", "type": "nominal", "scale": {"domain": ["Background", "Peak 3", "Peak 1", "Peak 2", "Peak 4", "Envelope"], "range": ["#1010FF", "#FF00FF", "#9933EE", "#16168C", "#228B22", "#FF0000"]}, "legend": null}
       }},
      {"data": {"name": "c_text"}, "mark": {"type": "text", "align": "center", "baseline": "middle"},
       "encoding": {"x": {"field": "e", "type": "quantitative"}, "y": {"field": "i", "type": "quantitative"}, "text": {"field": "t"}}}
    ]
  },
  {
    "width": 330, "height": 246,
    "layer": [
      {"data": {"name": "d_raw"}, "mark": {"type": "line", "color": "#111111", "strokeWidth": 1.3, "clip": true},
       "encoding": {
         "x": {"field": "e", "type": "quantitative", "scale": {"domain": [450, 475], "reverse": true, "nice": false, "zero": false},
               "axis": {"title": "Binding Energy(eV)", "values": [450,452.5,455,457.5,460,462.5,465,467.5,470,472.5,475], "tickCount": 100, "format": "d", "labelExpr": "datum.value % 5 === 0 ? datum.label : ''", "labelOverlap": false, "tickSize": 4, "labelPadding": 5, "titlePadding": 8.5}},
         "y": {"field": "i", "type": "quantitative", "scale": {"domain": [0, 100], "nice": false, "zero": false},
               "axis": {"title": "Intensity(a.u.)", "labels": false, "ticks": false, "titlePadding": 17}}
       }},
      {"data": {"name": "d_fit"}, "mark": {"type": "line", "strokeWidth": 1.8, "interpolate": "monotone", "clip": true},
       "encoding": {
         "x": {"field": "e", "type": "quantitative"}, "y": {"field": "i", "type": "quantitative"},
         "color": {"field": "s", "type": "nominal", "scale": {"domain": ["Background", "Ti 2p1/2", "Envelope", "Ti 2p3/2"], "range": ["#16168C", "#FF00FF", "#FF0000", "#228B22"]}, "legend": null}
       }},
      {"data": {"name": "d_text"}, "mark": {"type": "text", "align": "center", "baseline": "middle"},
       "encoding": {"x": {"field": "e", "type": "quantitative"}, "y": {"field": "i", "type": "quantitative"}, "text": {"field": "t"}}}
    ]
  },
  {
    "width": 329, "height": 247,
    "layer": [
      {"data": {"name": "e_raw"}, "mark": {"type": "line", "color": "#111111", "strokeWidth": 1.5, "interpolate": "monotone", "clip": true},
       "encoding": {
         "x": {"field": "e", "type": "quantitative", "scale": {"domain": [99, 108], "nice": false, "zero": false},
               "axis": {"title": "Binding Energy(eV)", "values": [99,100,101,102,103,104,105,106,107,108], "tickCount": 100, "format": "d", "labelExpr": "datum.value % 2 === 0 ? datum.label : ''", "labelOverlap": false, "tickSize": 4, "labelPadding": 7, "titlePadding": 2.5}},
         "y": {"field": "i", "type": "quantitative", "scale": {"domain": [0, 100], "nice": false, "zero": false},
               "axis": {"title": "Intensity(a.u.)", "labels": false, "ticks": false, "titlePadding": 10}}
       }},
      {"data": {"name": "e_fit"}, "mark": {"type": "line", "strokeWidth": 1.7, "interpolate": "monotone", "clip": true},
       "encoding": {
         "x": {"field": "e", "type": "quantitative"}, "y": {"field": "i", "type": "quantitative"},
         "color": {"field": "s", "type": "nominal", "scale": {"domain": ["Background", "Peak 1", "Peak 2", "Peak 3", "Peak 4", "Envelope"], "range": ["#1010FF", "#1010FF", "#228B22", "#FF00FF", "#800080", "#FF0000"]}, "legend": null}
       }},
      {"data": {"name": "e_text"}, "mark": {"type": "text", "align": "center", "baseline": "middle"},
       "encoding": {"x": {"field": "e", "type": "quantitative"}, "y": {"field": "i", "type": "quantitative"}, "text": {"field": "t"}}}
    ]
  },
  {
    "width": 330, "height": 247,
    "layer": [
      {"data": {"name": "f_raw"}, "mark": {"type": "line", "color": "#111111", "strokeWidth": 1.6, "interpolate": "monotone", "clip": true},
       "encoding": {
         "x": {"field": "e", "type": "quantitative", "scale": {"domain": [528, 537], "nice": false, "zero": false},
               "axis": {"title": "Binding Energy(eV)", "values": [528,528.5,529,529.5,530,530.5,531,531.5,532,532.5,533,533.5,534,534.5,535,535.5,536,536.5,537], "tickCount": 100, "format": "d", "labelExpr": "datum.value % 1 === 0 ? datum.label : ''", "labelOverlap": false, "tickSize": 4, "labelPadding": 4, "titlePadding": 6.5}},
         "y": {"field": "i", "type": "quantitative", "scale": {"domain": [0, 100], "nice": false, "zero": false},
               "axis": {"title": "Intensity(a.u.)", "labels": false, "ticks": false, "titlePadding": 17}}
       }},
      {"data": {"name": "f_fit"}, "mark": {"type": "line", "strokeWidth": 1.7, "interpolate": "monotone", "clip": true},
       "encoding": {
         "x": {"field": "e", "type": "quantitative"}, "y": {"field": "i", "type": "quantitative"},
         "color": {"field": "s", "type": "nominal", "scale": {"domain": ["Shirley", "Background", "Peak 4", "Peak 3", "Peak 1", "Peak 2", "Envelope"], "range": ["#8B1010", "#1010FF", "#800080", "#FF00FF", "#228B22", "#16168C", "#FF0000"]}, "legend": null}
       }},
      {"data": {"name": "f_text"}, "mark": {"type": "text", "align": "center", "baseline": "middle"},
       "encoding": {"x": {"field": "e", "type": "quantitative"}, "y": {"field": "i", "type": "quantitative"}, "text": {"field": "t"}}}
    ]
  }
]
}
